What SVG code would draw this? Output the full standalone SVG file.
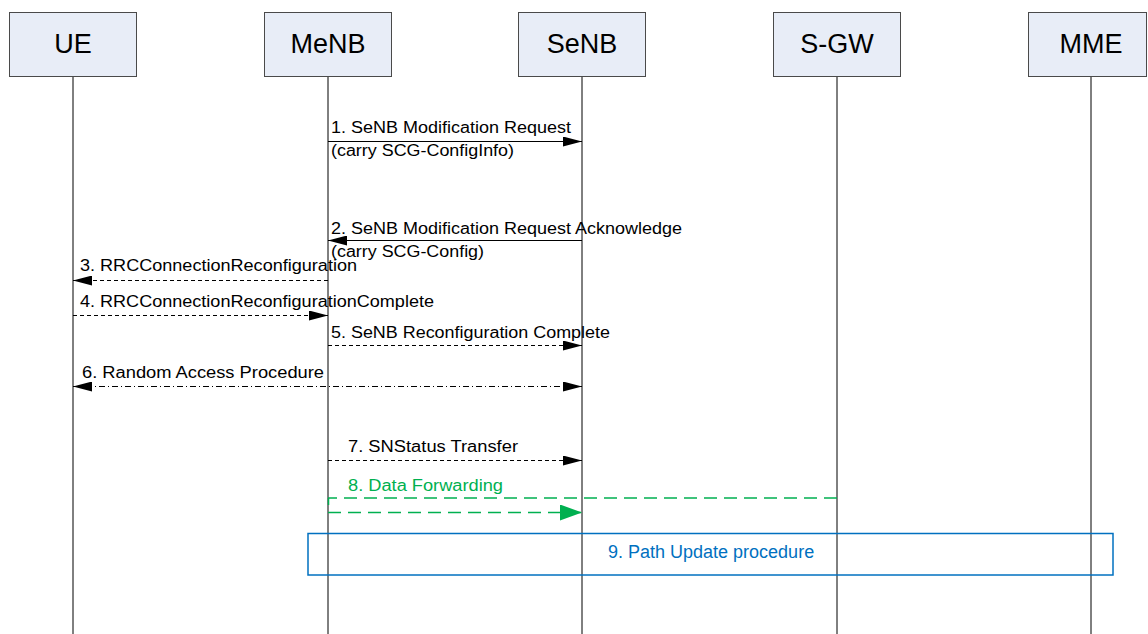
<svg xmlns="http://www.w3.org/2000/svg" width="1148" height="634" viewBox="0 0 1148 634">
<style>
.box{fill:#E8EDF7;stroke:#4a4a4a;stroke-width:1}
.title{font-family:"Liberation Sans",Arial,sans-serif;font-size:27px;fill:#000;text-anchor:middle}
.life{stroke:#000;stroke-width:1;fill:none}
.msg{font-family:"Liberation Sans",Arial,sans-serif;font-size:16px;fill:#000}
.sol{stroke:#000;stroke-width:1;fill:none}
.dash{stroke:#000;stroke-width:1;fill:none;stroke-dasharray:4 3}
.dd{stroke:#000;stroke-width:1;fill:none;stroke-dasharray:6 3 1 3}
.grn{stroke:#00B050;stroke-width:1.5;fill:none;stroke-dasharray:13 7}
.gtxt{font-family:"Liberation Sans",Arial,sans-serif;font-size:16px;fill:#00B050}
.btxt{font-family:"Liberation Sans",Arial,sans-serif;font-size:18px;fill:#0070C0}
</style>
<defs>
<marker id="ah" markerUnits="userSpaceOnUse" markerWidth="19" markerHeight="10" refX="19" refY="5" orient="auto-start-reverse" viewBox="0 0 19 10">
<path d="M0,0 L19,5 L0,10 z" fill="#000" stroke="none"/>
</marker>
<marker id="gah" markerUnits="userSpaceOnUse" markerWidth="22" markerHeight="16" refX="22" refY="8" orient="auto" viewBox="0 0 22 16">
<path d="M0,0 L22,8 L0,16 z" fill="#00B050" stroke="none"/>
</marker>
</defs>

<g id="lifelines">
<line class="life" x1="73" y1="76.5" x2="73" y2="634"/>
<line class="life" x1="328" y1="76.5" x2="328" y2="634"/>
<line class="life" x1="582" y1="76.5" x2="582" y2="634"/>
<line class="life" x1="837" y1="76.5" x2="837" y2="634"/>
<line class="life" x1="1091" y1="76.5" x2="1091" y2="634"/>
</g>

<g id="node-UE"><rect class="box" x="9.5" y="12.5" width="127" height="64"/><text class="title" x="73" y="53">UE</text></g>
<g id="node-MeNB"><rect class="box" x="264.5" y="12.5" width="127" height="64"/><text class="title" x="328" y="53">MeNB</text></g>
<g id="node-SeNB"><rect class="box" x="518.5" y="12.5" width="127" height="64"/><text class="title" x="582" y="53">SeNB</text></g>
<g id="node-SGW"><rect class="box" x="773.5" y="12.5" width="127" height="64"/><text class="title" x="837" y="53">S-GW</text></g>
<g id="node-MME"><rect class="box" x="1028.5" y="12.5" width="118" height="64"/><text class="title" x="1091" y="53">MME</text></g>

<g id="node-PathUpdate">
<rect x="308" y="533.5" width="805" height="41.5" fill="none" stroke="#0070C0" stroke-width="1.5"/>
<text class="btxt" x="608" y="557.5">9. Path Update procedure</text>
</g>

<g id="connectors">
<line class="sol" x1="328" y1="141.5" x2="582" y2="141.5" marker-end="url(#ah)"/>
<text class="msg" x="331" y="133" textLength="240" lengthAdjust="spacingAndGlyphs">1. SeNB Modification Request</text>
<text class="msg" x="331" y="156" textLength="183" lengthAdjust="spacingAndGlyphs">(carry SCG-ConfigInfo)</text>

<line class="sol" x1="582" y1="240.5" x2="328" y2="240.5" marker-end="url(#ah)"/>
<text class="msg" x="331" y="234" textLength="351" lengthAdjust="spacingAndGlyphs">2. SeNB Modification Request Acknowledge</text>
<text class="msg" x="331" y="257" textLength="153" lengthAdjust="spacingAndGlyphs">(carry SCG-Config)</text>

<line class="dash" x1="328" y1="280.5" x2="73" y2="280.5" marker-end="url(#ah)"/>
<text class="msg" x="80" y="271" textLength="277" lengthAdjust="spacingAndGlyphs">3. RRCConnectionReconfiguration</text>

<line class="dash" x1="73" y1="315.5" x2="328" y2="315.5" marker-end="url(#ah)"/>
<text class="msg" x="80" y="306.5" textLength="354" lengthAdjust="spacingAndGlyphs">4. RRCConnectionReconfigurationComplete</text>

<line class="dash" x1="328" y1="345.5" x2="582" y2="345.5" marker-end="url(#ah)"/>
<text class="msg" x="331" y="338" textLength="279" lengthAdjust="spacingAndGlyphs">5. SeNB Reconfiguration Complete</text>

<line class="dd" x1="73" y1="386.5" x2="582" y2="386.5" marker-start="url(#ah)" marker-end="url(#ah)"/>
<text class="msg" x="82" y="377.5" textLength="242" lengthAdjust="spacingAndGlyphs">6. Random Access Procedure</text>

<line class="dash" x1="328" y1="460.5" x2="582" y2="460.5" marker-end="url(#ah)"/>
<text class="msg" x="348" y="452" textLength="170" lengthAdjust="spacingAndGlyphs">7. SNStatus Transfer</text>

<text class="gtxt" x="348" y="490.5" textLength="155" lengthAdjust="spacingAndGlyphs">8. Data Forwarding</text>
<line class="grn" x1="837" y1="498" x2="328" y2="498"/>
<line x1="328.5" y1="498" x2="328.5" y2="505" stroke="#00B050" stroke-width="1.5"/>
<line class="grn" x1="328" y1="512.5" x2="582" y2="512.5" marker-end="url(#gah)"/>
</g>
</svg>
